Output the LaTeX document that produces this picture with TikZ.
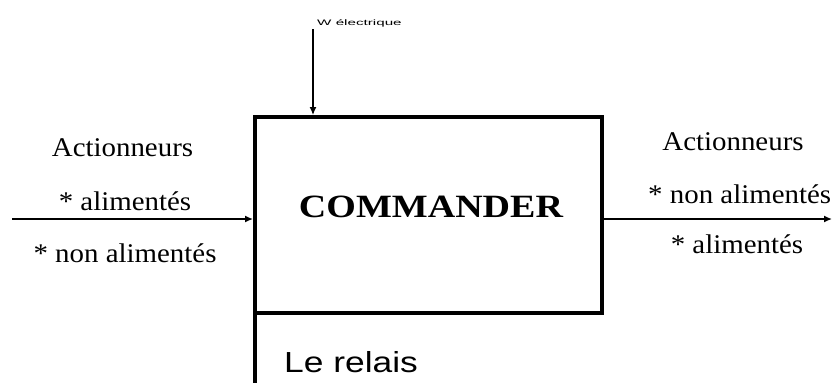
\documentclass[tikz,border=0pt]{standalone}
\usepackage{fontspec}
\setmainfont{Liberation Serif}
\setsansfont{Liberation Sans}
\usetikzlibrary{arrows.meta}
\tikzset{
  lbl/.style={font=\fontsize{27}{30}\selectfont, anchor=base, inner sep=0pt},
  flow/.style={line width=1.4pt, -{Latex[length=8pt,width=7pt]}},
  blockbox/.style={draw, line width=4pt, minimum width=347pt, minimum height=196pt, inner sep=0pt}
}
\newcommand{\wide}[2]{\scalebox{#1}[1]{#2}}
\begin{document}
\begin{tikzpicture}[x=1pt,y=-1pt]
\useasboundingbox (0,0) rectangle (832,383);
\fill[white] (0,0) rectangle (832,383);

% main block
\node[blockbox] (box) at (428.5,215) {};
\coordinate (tail) at (255,383);
\draw[line width=4pt] (tail |- box.south) -- (tail);

% block title
\node[anchor=base, inner sep=0pt, font=\fontsize{32.5}{36}\selectfont\bfseries] (title) at (431,217) {\wide{1.17}{COMMANDER}};

% support label
\node[anchor=base west, inner sep=0pt, font=\sffamily\fontsize{29}{32}\selectfont] (support) at (284,372) {\wide{1.22}{Le relais}};

% energy input from above
\coordinate (wtop) at (313,29);
\draw[flow, line width=1.2pt] (wtop) -- (wtop |- box.north);
\node[anchor=base west, inner sep=0pt, font=\sffamily\fontsize{8}{9}\selectfont] (energy) at (317,25) {\wide{1.9}{W électrique}};

% input
\coordinate (inL) at (12,219);
\draw[flow] (inL) -- (inL -| box.west);
\node[lbl] (in1) at (122.5,156) {\wide{1.07}{Actionneurs}};
\node[lbl] (in2) at (125,210) {\wide{1.07}{* alimentés}};
\node[lbl] (in3) at (125,262) {\wide{1.07}{* non alimentés}};

% output
\coordinate (outR) at (832,219);
\draw[flow] (outR -| box.east) -- (outR);
\node[lbl] (out1) at (733,150) {\wide{1.07}{Actionneurs}};
\node[lbl, anchor=base west] (out2) at (648,203) {\wide{1.07}{* non alimentés}};
\node[lbl] (out3) at (737,253) {\wide{1.07}{* alimentés}};
\end{tikzpicture}
\end{document}
